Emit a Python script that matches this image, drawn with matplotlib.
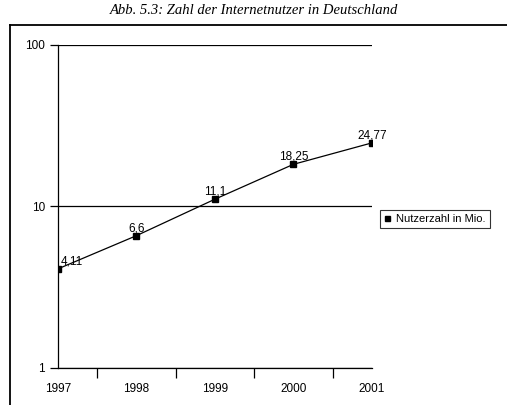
import matplotlib.pyplot as plt
from matplotlib.lines import Line2D

# Data
years = ['1997', '1998', '1999', '2000', '2001']
nutzer = [4.11, 6.6, 11.1, 18.25, 24.77]
labels = ['4,11', '6,6', '11,1', '18,25', '24,77']

plt.rcParams['font.family'] = ['Liberation Sans', 'DejaVu Sans']

fig = plt.figure(figsize=(5.07, 4.05), dpi=100)
ax = fig.add_axes([0.1144, 0.0914, 0.6193, 0.7975])

x = list(range(len(years)))
ax.plot(x, nutzer, color='black', lw=0.9, marker='s', markersize=4,
        label='Nutzerzahl in Mio.')

for xi, yi, lab in zip(x, nutzer, labels):
    dx = 2 if xi == 0 else 0
    ax.annotate(lab, (xi, yi), xytext=(dx, 1), textcoords='offset points',
                ha='center' if xi else 'left', va='bottom', fontsize=8.5)

ax.set_yscale('log')
ax.set_ylim(1, 100)
ax.set_xlim(0, len(years) - 1)
ax.set_yticks([1, 10, 100])
ax.set_yticklabels(['1', '10', '100'])
ax.minorticks_off()
ax.yaxis.grid(True, color='black', lw=0.9)

# ticks between categories, labels under the points
ax.set_xticks([i + 0.5 for i in range(len(years) - 1)])
ax.set_xticklabels([])
for xi, yr in zip(x, years):
    ax.text(xi, -0.045, yr, transform=ax.get_xaxis_transform(),
            ha='center', va='top', fontsize=8.5)

ax.tick_params(axis='both', direction='out', length=6, width=0.9,
               labelsize=8.5, color='black')
ax.tick_params(axis='x', length=7)
for side in ['top', 'right']:
    ax.spines[side].set_visible(False)
ax.spines['left'].set_linewidth(0.9)
ax.spines['bottom'].set_linewidth(0.9)

leg = ax.legend(loc='center left', bbox_to_anchor=(1.008, 0.461),
                fontsize=8, frameon=True, fancybox=False,
                handlelength=0.6, handletextpad=0.5, borderpad=0.35,
                markerscale=0.9)
leg.get_frame().set_edgecolor('black')
leg.get_frame().set_linewidth(0.8)
for h in leg.legend_handles:
    h.set_linestyle('none')

fig.text(0.5, 0.973, 'Abb. 5.3: Zahl der Internetnutzer in Deutschland',
         ha='center', va='center', fontsize=10.5, style='italic',
         family=['Liberation Serif', 'DejaVu Serif'])

# outer frame lines
fig.add_artist(Line2D([10 / 507, 10 / 507], [0, 1 - 25 / 405],
                      transform=fig.transFigure, color='black', lw=1.3))
fig.add_artist(Line2D([10 / 507, 1], [1 - 25 / 405, 1 - 25 / 405],
                      transform=fig.transFigure, color='black', lw=1.3))

fig.savefig('out.png', dpi=100)
